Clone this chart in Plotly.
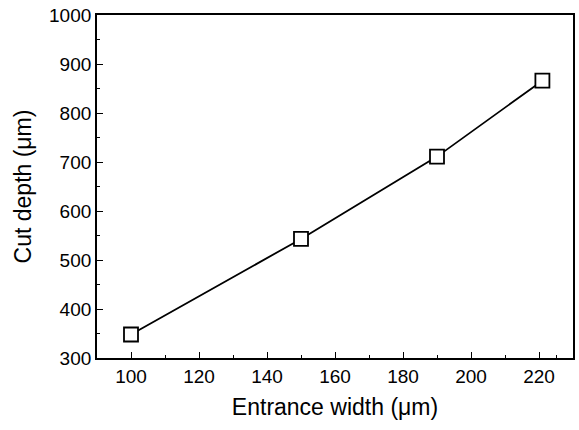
import plotly.graph_objects as go

entrance_width = [100, 150, 190, 221]
cut_depth = [348, 543, 711, 866]
x_ticks = [100, 120, 140, 160, 180, 200, 220]
y_ticks = [300, 400, 500, 600, 700, 800, 900, 1000]

fig = go.Figure()
fig.add_trace(go.Scatter(
    x=entrance_width, y=cut_depth, mode="lines+markers",
    line=dict(color="black", width=1.8),
    marker=dict(symbol="square", size=14, color="white",
                line=dict(color="black", width=1.8)),
    showlegend=False,
))

font = dict(family="Liberation Sans, Arial, sans-serif", color="black")
axis_common = dict(
    showline=True, linecolor="black", linewidth=1.8, mirror=True,
    ticks="inside", ticklen=6, tickwidth=1.4, tickcolor="black",
    showgrid=False, zeroline=False, automargin=False,
    tickfont=dict(size=19, **font),
    minor=dict(ticks="inside", ticklen=3, tickwidth=1.1, tickcolor="black"),
)
fig.update_xaxes(range=[90, 230], tickvals=x_ticks, **axis_common,
                 title=dict(text="Entrance width (μm)", font=dict(size=23, **font), standoff=13))
fig.update_yaxes(range=[300, 1000], tickvals=y_ticks, **axis_common,
                 title=dict(text="Cut depth (μm)", font=dict(size=23, **font), standoff=11))
fig.update_xaxes(minor_tickvals=[110, 130, 150, 170, 190, 210, 225])
fig.update_yaxes(minor_tickvals=[350, 450, 550, 650, 750, 850, 950])

fig.update_layout(
    width=579, height=430,
    margin=dict(l=97, r=6, t=15, b=72),
    plot_bgcolor="white", paper_bgcolor="white",
)
fig.write_html(
    "out.html",
    config={"displayModeBar": False},
    post_script="document.body.style.margin='0';document.body.style.overflow='hidden';",
)
